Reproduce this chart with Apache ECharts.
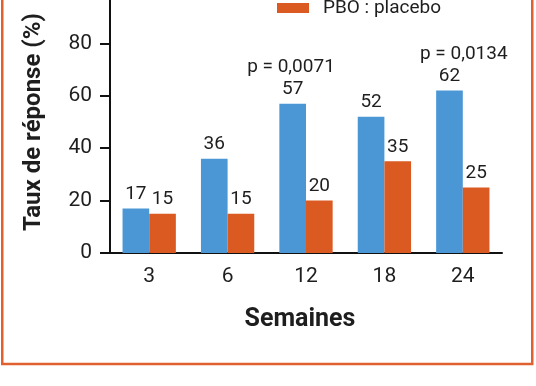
<!DOCTYPE html>
<html><head><meta charset="utf-8">
<script src="https://cdn.jsdelivr.net/npm/echarts@6/dist/echarts.min.js"></script>
<style>html,body{margin:0;padding:0;background:#fff}#c{width:536px;height:386px}</style>
</head><body><div id="c"></div>
<script>
const categories = ['3', '6', '12', '18', '24'];
const treatedValues = [17, 36, 57, 52, 62];
const placeboValues = [15, 15, 20, 35, 25];
const seriesNames = ['Traitement actif', 'PBO : placebo'];
const yTicks = [0, 20, 40, 60, 80, 100];
const pValues = [
  { cat: '12', y: 71, text: 'p = 0,0071', dx: -15 },
  { cat: '24', y: 76, text: 'p = 0,0134', dx: 1 }
];

const FONT = 'Roboto';
const chart = echarts.init(document.getElementById('c'), null, { renderer: 'canvas' });
chart.setOption({
  animation: false,
  backgroundColor: '#ffffff',
  textStyle: { fontFamily: FONT },
  graphic: [{
    type: 'rect', shape: { x: 2.25, y: -20, width: 530, height: 384 },
    style: { fill: 'none', stroke: '#e0602f', lineWidth: 2.5 }, silent: true
  }],
  legend: {
    orient: 'vertical', left: 277, top: -38, padding: 0, itemWidth: 32, itemHeight: 10, itemGap: 10,
    data: seriesNames,
    textStyle: { fontFamily: FONT, fontSize: 19, color: '#1e1e1e', padding: [4, 0, 0, 9], lineHeight: 20 },
    icon: 'rect'
  },
  grid: { left: 110, right: 34, top: -9, bottom: 133, containLabel: false, outerBoundsMode: 'none' },
  xAxis: {
    type: 'category', data: categories,
    axisLine: { lineStyle: { color: '#111', width: 2 } },
    axisTick: { show: false },
    axisLabel: { fontFamily: FONT, fontSize: 21, color: '#1e1e1e', margin: 13 },
    name: 'Semaines', nameLocation: 'middle', nameGap: 54,
    nameTextStyle: { fontFamily: FONT, fontSize: 25, fontWeight: 'bold', color: '#1e1e1e', padding: [0, 12, 0, 0] }
  },
  yAxis: {
    type: 'value', min: yTicks[0], max: yTicks[yTicks.length - 1], interval: 20,
    axisLine: { show: true, lineStyle: { color: '#111', width: 2 } },
    axisTick: { show: true, length: 10, lineStyle: { color: '#111', width: 2 } },
    splitLine: { show: false },
    axisLabel: { fontFamily: FONT, fontSize: 21, color: '#1e1e1e', margin: 18 },
    name: 'Taux de réponse (%)', nameLocation: 'middle', nameGap: 64, nameRotate: 90,
    nameTextStyle: { fontFamily: FONT, fontSize: 24, fontWeight: 'bold', color: '#1e1e1e' }
  },
  series: [
    {
      name: seriesNames[0], type: 'bar', data: treatedValues, barGap: '0%', barCategoryGap: '32%',
      itemStyle: { color: '#4b97d5' },
      label: { show: true, position: 'top', distance: 5, fontFamily: FONT, fontSize: 19, color: '#1e1e1e' }
    },
    {
      name: seriesNames[1], type: 'bar', data: placeboValues,
      itemStyle: { color: '#da5a22' },
      label: { show: true, position: 'top', distance: 5, fontFamily: FONT, fontSize: 19, color: '#1e1e1e' }
    },
    {
      type: 'scatter', symbolSize: 0, silent: true, itemStyle: { opacity: 1 },
      data: pValues.map(p => ({
        value: [p.cat, p.y],
        label: { show: true, position: 'inside', offset: [p.dx, 0], formatter: p.text,
          fontFamily: FONT, fontSize: 19, color: '#1e1e1e' }
      }))
    }
  ]
});
</script></body></html>
